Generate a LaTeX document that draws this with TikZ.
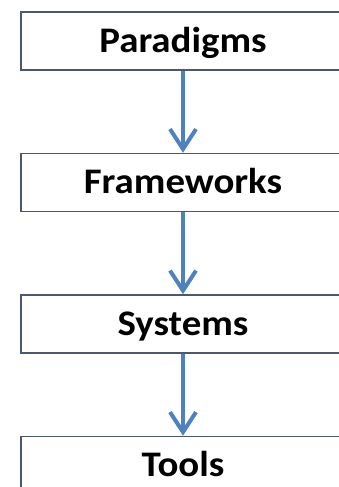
\documentclass[tikz,border=0pt]{standalone}
\usepackage{fontspec}
\setmainfont{Carlito}
\newfontfamily\tierfont[FakeStretch=1.08]{Carlito}
\usetikzlibrary{positioning,arrows.meta}
\definecolor{boxline}{RGB}{78,88,108}
\definecolor{arrowblue}{RGB}{79,129,189}
\tikzset{
	tierbox/.style={draw=boxline, line width=1.5pt, minimum width=324pt, minimum height=58pt, inner sep=0pt, text height=22.8pt, text depth=0pt, font=\tierfont\fontsize{36}{40}\selectfont\bfseries},
	flow/.style={draw=arrowblue, line width=4pt, -{Straight Barb[length=20pt,width=26pt]}}
}

\begin{document}
\begin{tikzpicture}[x=1pt, y=1pt, node distance=82pt]
	\useasboundingbox (0,0) rectangle (338,-487);
	\node[tierbox] (paradigms) at (183,-41) {Paradigms};
	\node[tierbox, below=of paradigms] (frameworks) {Frameworks};
	\node[tierbox, below=of frameworks] (systems) {Systems};
	\node[tierbox, below=of systems] (tools) {Tools};
	% arrows between the levels
	\foreach \a/\b in {paradigms/frameworks, frameworks/systems, systems/tools}
	{
		\draw[flow] (\a) -- (\b);
	}
\end{tikzpicture}
\end{document}
